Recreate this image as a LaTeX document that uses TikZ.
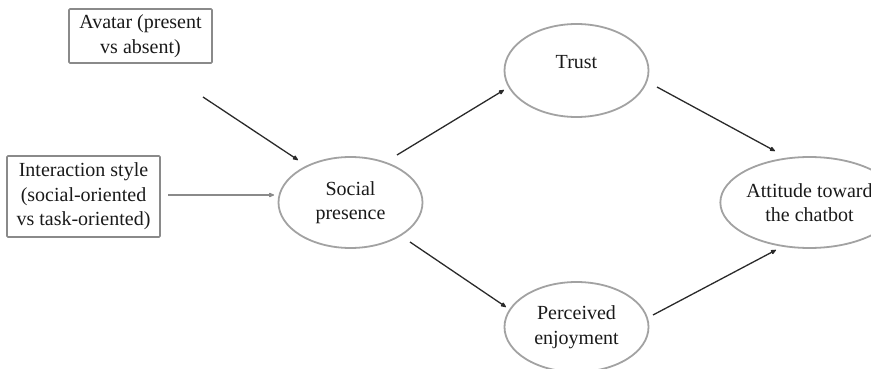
\documentclass[tikz,border=0pt]{standalone}
\usepackage{fontspec}
\setmainfont{Liberation Serif}
\usetikzlibrary{arrows.meta,shapes.geometric}
\definecolor{boxline}{HTML}{8A8A8A}
\definecolor{ellline}{HTML}{A2A2A2}
\definecolor{arrline}{HTML}{2A2A2A}
\definecolor{txt}{HTML}{1A1A1A}
\tikzset{
  every node/.style={text=txt,font=\fontsize{20pt}{24.5pt}\selectfont,align=center},
  factorbox/.style={draw=boxline,line width=1.6pt,rounded corners=1pt,inner sep=0pt},
  construct/.style={ellipse,draw=ellline,line width=1.8pt,inner sep=0pt,minimum width=144pt},
  path arrow/.style={draw=arrline,line width=1.3pt,-{Latex[length=7pt,width=5.5pt,round]}},
  gray arrow/.style={draw=boxline,line width=1.9pt,-{Latex[length=7pt,width=5.5pt,round]}}
}
\begin{document}
\begin{tikzpicture}[x=1pt,y=-1pt]
\useasboundingbox (0,0) rectangle (871,369);
\clip (0,0) rectangle (871,369);
% boxes
\node[factorbox,minimum width=143pt,minimum height=54pt] (avatar) at (140.5,36) {Avatar (present\\vs absent)};
\node[factorbox,minimum width=153pt,minimum height=81pt] (style) at (83.5,196.5) {Interaction style\\(social-oriented\\vs task-oriented)};
% ellipses
\node[construct,minimum height=91pt] (social) at (350.5,202.5) {Social\\presence};
\node[construct,minimum height=93pt] (trust) at (576.5,70.5) {\raisebox{18pt}{Trust}};
\node[construct,minimum height=90pt] (enjoy) at (576.5,327) {Perceived\\enjoyment};
\node[construct,minimum height=91pt] (attitude) at (809.5,202.5) {Attitude toward\\the chatbot};
% connector ends
\coordinate (a1s) at (203,97);  \coordinate (a1e) at (298,160);
\coordinate (a2s) at (168,195); \coordinate (a2e) at (274,195);
\coordinate (a3s) at (397,155); \coordinate (a3e) at (504,90);
\coordinate (a4s) at (410,242); \coordinate (a4e) at (506,307);
\coordinate (a5s) at (657,87);  \coordinate (a5e) at (775,151);
\coordinate (a6s) at (653,315); \coordinate (a6e) at (776,250);
\draw[path arrow] (a1s) -- (a1e);
\draw[gray arrow] (a2s) -- (a2e);
\draw[path arrow] (a3s) -- (a3e);
\draw[path arrow] (a4s) -- (a4e);
\draw[path arrow] (a5s) -- (a5e);
\draw[path arrow] (a6s) -- (a6e);
\end{tikzpicture}
\end{document}
